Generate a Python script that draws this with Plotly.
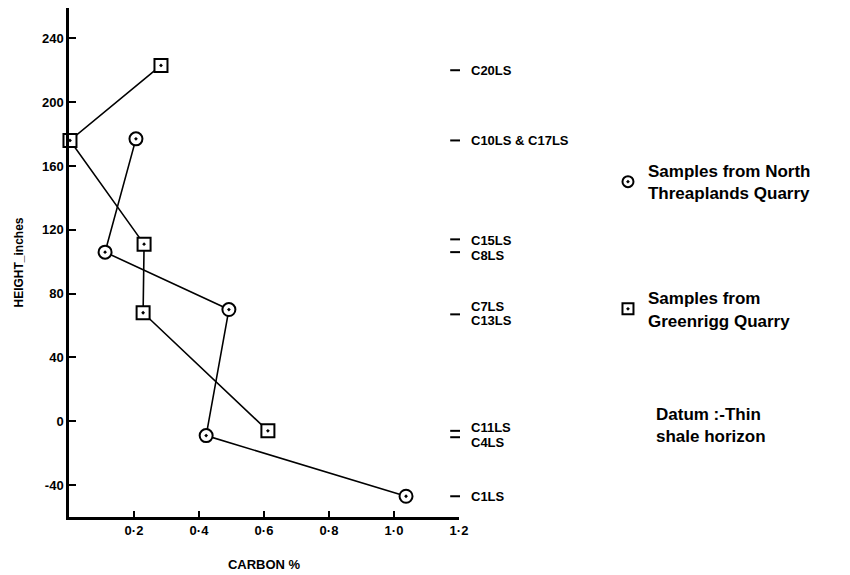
import plotly.graph_objects as go

# North Threaplands Quarry (circles), in drawing order
nt_carbon = [0.206, 0.111, 0.492, 0.422, 1.037]
nt_height = [177, 106, 70, -9, -47]

# Greenrigg Quarry (squares), in drawing order
gr_carbon = [0.283, 0.003, 0.231, 0.228, 0.612]
gr_height = [223, 176, 111, 68, -6]

# sample labels down the right hand side
strat_labels = ["C20LS", "C10LS & C17LS", "C15LS", "C8LS", "C7LS", "C13LS", "C11LS", "C4LS", "C1LS"]
strat_heights = [220, 176, 113, 104, 72, 63, -4, -13, -47]
dash_heights = [220, 176, 114, 106, 67, -6, -10, -47]

x_ticks = [0.2, 0.4, 0.6, 0.8, 1.0, 1.2]
x_ticktext = ["0·2", "0·4", "0·6", "0·8", "1·0", "1·2"]
y_ticks = [-40, 0, 40, 80, 120, 160, 200, 240]
y_ticktext = ["-40", "0", "40", "80", "120", "160", "200", "240"]

FONT = "Liberation Sans"

fig = go.Figure()

fig.add_trace(go.Scatter(
    x=nt_carbon, y=nt_height, mode="lines+markers", showlegend=False,
    line=dict(color="black", width=1.6),
    marker=dict(symbol="circle-dot", size=13, color="white", line=dict(color="black", width=2)),
    cliponaxis=False))

fig.add_trace(go.Scatter(
    x=gr_carbon, y=gr_height, mode="lines+markers", showlegend=False,
    line=dict(color="black", width=1.6),
    marker=dict(symbol="square-dot", size=13, color="white", line=dict(color="black", width=2)),
    cliponaxis=False))

# little dashes before the sample labels
fig.add_trace(go.Scatter(
    x=[1.188] * len(dash_heights), y=dash_heights, mode="markers", showlegend=False,
    marker=dict(symbol="line-ew", size=7, line=dict(color="black", width=2)),
    cliponaxis=False, hoverinfo="skip"))

# legend-only entries
fig.add_trace(go.Scatter(
    x=[None], y=[None], mode="markers", legendgroup="nt",
    name="Samples from North<br>Threaplands Quarry",
    marker=dict(symbol="circle-dot", size=11, color="white", line=dict(color="black", width=2))))
fig.add_trace(go.Scatter(
    x=[None], y=[None], mode="markers", legendgroup="gr",
    name="Samples from<br>Greenrigg Quarry",
    marker=dict(symbol="square-dot", size=11, color="white", line=dict(color="black", width=2))))

for lab, h in zip(strat_labels, strat_heights):
    fig.add_annotation(x=1.0256, y=h, xref="paper", yref="y", text=lab, showarrow=False,
                       xanchor="left", yanchor="middle",
                       font=dict(family=FONT, size=13, color="black", weight="bold"))

fig.add_annotation(x=1.5, y=0.224, xref="paper", yref="paper",
                   text="Datum :-Thin<br>shale horizon", showarrow=False,
                   xanchor="left", yanchor="top", align="left",
                   font=dict(family=FONT, size=17, color="black", weight="bold"))

# formatting
fig.update_xaxes(range=[0, 1.2], tickvals=x_ticks, ticktext=x_ticktext,
                 ticks="inside", ticklen=6, tickwidth=2, tickcolor="black",
                 showline=True, linecolor="black", linewidth=2.5,
                 showgrid=False, zeroline=False,
                 tickfont=dict(family=FONT, size=13, color="black", weight="bold"),
                 title=dict(text="CARBON %", standoff=23,
                            font=dict(family=FONT, size=13, color="black", weight="bold")))
fig.update_yaxes(range=[-60, 259], tickvals=y_ticks, ticktext=y_ticktext,
                 ticks="inside", ticklen=7, tickwidth=2, tickcolor="black",
                 showline=True, linecolor="black", linewidth=2.5,
                 showgrid=False, zeroline=False,
                 tickfont=dict(family=FONT, size=13, color="black", weight="bold"),
                 title=dict(text="HEIGHT_inches", standoff=16,
                            font=dict(family=FONT, size=12, color="black", weight="bold")))

# page body adds 8px, so the figure is a touch smaller than the window
fig.update_layout(
    width=842, height=567,
    autosize=False,
    margin=dict(l=61, r=391, t=0, b=58),
    plot_bgcolor="white", paper_bgcolor="white",
    showlegend=True,
    legend=dict(x=1.382, y=0.715, xanchor="left", yanchor="top",
                tracegroupgap=80, itemwidth=30,
                font=dict(family=FONT, size=17, color="black", weight="bold"),
                bgcolor="rgba(0,0,0,0)"),
)

fig.write_html("out.html")
